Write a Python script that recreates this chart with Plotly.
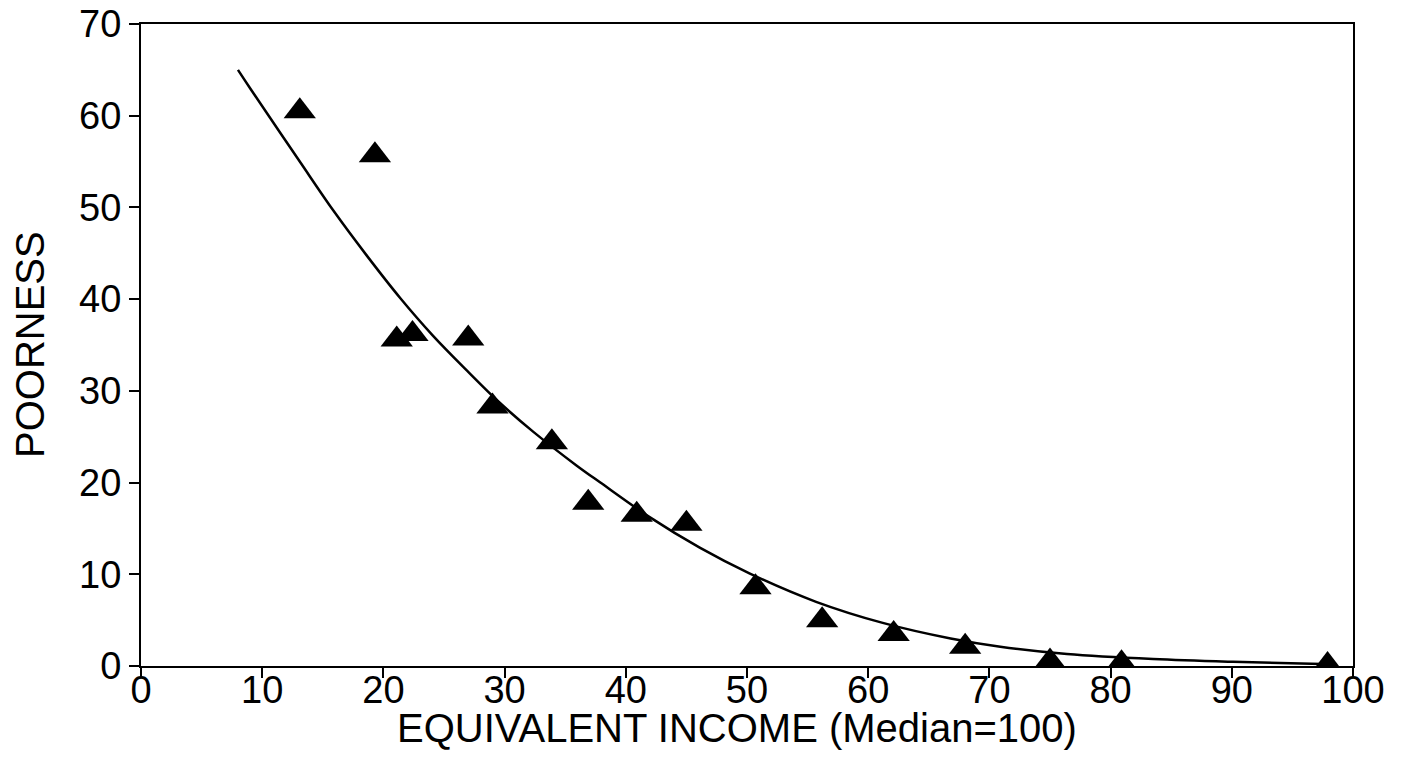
import plotly.graph_objects as go

# Observed points (equivalent income, poorness)
income = [13.1, 19.3, 21.1, 22.4, 27.0, 29.0, 33.9, 36.9, 40.9, 45.0, 50.7, 56.2, 62.1, 68.0, 75.0, 80.9, 97.9]
poorness = [60.5, 55.7, 35.6, 36.2, 35.7, 28.3, 24.4, 17.8, 16.5, 15.5, 8.6, 5.0, 3.5, 2.1, 0.5, 0.3, 0.1]

# Fitted curve
curve_x = [8, 9, 13.1, 15.9, 18.6, 21.4, 24.1, 26.9, 29.6, 32.4, 35.9, 37.9, 42.0, 46.1, 50.2,
           55.7, 61.2, 66.8, 70.9, 76.4, 83.5, 90.1, 98.3]
curve_y = [65.0, 63.0, 55.0, 49.6, 44.8, 40.1, 36.0, 32.2, 28.7, 25.5, 21.9, 20.0, 16.2, 12.9, 10.1,
           7.0, 4.7, 3.0, 2.1, 1.3, 0.75, 0.45, 0.2]

x_ticks = [0, 10, 20, 30, 40, 50, 60, 70, 80, 90, 100]
y_ticks = [0, 10, 20, 30, 40, 50, 60, 70]

FONT = "Liberation Sans, Arial, Helvetica, sans-serif"

fig = go.Figure()
fig.add_trace(go.Scatter(
    x=curve_x, y=curve_y, mode="lines",
    line=dict(color="black", width=2.5, shape="spline", smoothing=1.0),
    showlegend=False, hoverinfo="skip",
))
fig.add_trace(go.Scatter(
    x=income, y=poorness, mode="markers",
    marker=dict(symbol="triangle-up", size=28, color="black", line=dict(width=0)),
    showlegend=False,
))

axis_common = dict(
    showline=True, mirror=True, linecolor="black", linewidth=2,
    ticks="outside", ticklen=10, tickwidth=1.5, tickcolor="black",
    showgrid=False, zeroline=False, automargin=False,
    tickfont=dict(family=FONT, size=38, color="black"),
)

fig.update_layout(
    width=1407, height=770,
    margin=dict(l=141, r=54, t=24, b=104),
    paper_bgcolor="white", plot_bgcolor="white",
    font=dict(family=FONT, color="black"),
    xaxis=dict(range=[0, 100], tickvals=x_ticks, ticktext=[str(v) for v in x_ticks],
               ticklabelstandoff=-21, **axis_common),
    yaxis=dict(range=[0, 70], tickvals=y_ticks, ticktext=[str(v) for v in y_ticks], **axis_common),
    annotations=[
        dict(text="EQUIVALENT INCOME (Median=100)", xref="paper", yref="paper",
             x=0.4917, y=0, xanchor="center", yanchor="middle", yshift=-62,
             showarrow=False, font=dict(family=FONT, size=40, color="black")),
        dict(text="POORNESS", xref="paper", yref="paper",
             x=0, y=0.5, xanchor="center", yanchor="middle", xshift=-111, textangle=-90,
             showarrow=False, font=dict(family=FONT, size=40, color="black")),
    ],
)

fig.write_html("out.html", config={"displayModeBar": False},
               post_script="document.body.style.margin='0';")
